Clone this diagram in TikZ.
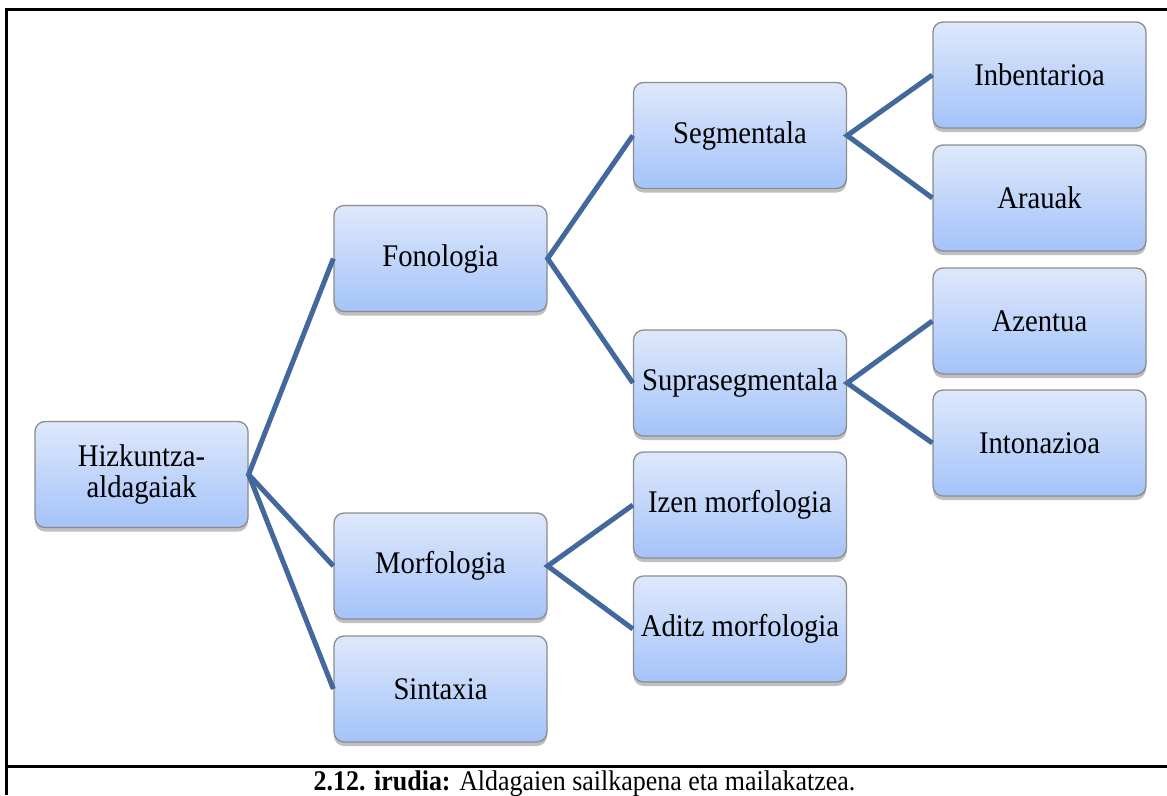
\documentclass[tikz,border=0pt]{standalone}
\usepackage{fontspec}
\setmainfont{Liberation Serif}[FakeStretch=0.91]
\usetikzlibrary{shadows}
\definecolor{linkblue}{RGB}{67,104,155}
\definecolor{boxtop}{RGB}{222,232,251}
\definecolor{boxbottom}{RGB}{164,195,249}
\definecolor{boxedge}{RGB}{140,140,140}
\tikzset{
  boxnode/.style={draw=boxedge, line width=1.3pt, rounded corners=10pt,
    top color=boxtop, bottom color=boxbottom,
    minimum width=213pt, minimum height=106pt, inner sep=0pt,
    align=center, font=\fontsize{31.5}{31}\selectfont,
    drop shadow={shadow xshift=0pt, shadow yshift=-4pt, opacity=0.25, fill=black}},
  link/.style={draw=linkblue, line width=5pt},
  frame/.style={draw=black, line width=3pt}
}
\begin{document}
\begin{tikzpicture}[x=1pt, y=-1pt]
\useasboundingbox (0,0) rectangle (1167,795);
% outer frame and caption separator
\draw[frame] (6,795) -- (6,9) -- (1167,9);
\draw[frame] (6,766) -- (1167,766);

% hierarchy boxes
\node[boxnode] (hiz) at (141.5,474.5) {Hizkuntza-\\aldagaiak};
\node[boxnode] (fon) at (440.5,258.5) {Fonologia};
\node[boxnode] (mor) at (440.5,566) {Morfologia};
\node[boxnode] (sin) at (440.5,689) {Sintaxia};
\node[boxnode] (seg) at (740,135.5) {Segmentala};
\node[boxnode] (sup) at (740,383) {Suprasegmentala};
\node[boxnode] (izen) at (740,505) {Izen morfologia};
\node[boxnode] (adi) at (740,629) {Aditz morfologia};
\node[boxnode] (inb) at (1039.5,75) {Inbentarioa};
\node[boxnode] (ara) at (1039.5,198) {Arauak};
\node[boxnode] (aze) at (1039.5,321) {Azentua};
\node[boxnode] (int) at (1039.5,443) {Intonazioa};

% connectors
\draw[link] (fon.west) -- (hiz.east) -- (mor.west);
\draw[link] (hiz.east) -- (sin.west);
\draw[link] (seg.west) -- (fon.east) -- (sup.west);
\draw[link] (izen.west) -- (mor.east) -- (adi.west);
\draw[link] (inb.west) -- (seg.east) -- (ara.west);
\draw[link] (aze.west) -- (sup.east) -- (int.west);

% caption
\node[anchor=base, inner sep=0pt, font=\fontsize{28.5}{30}\selectfont] (cap) at (584.5,790)
  {\textbf{2.12. irudia:} Aldagaien sailkapena eta mailakatzea.};
\end{tikzpicture}
\end{document}
